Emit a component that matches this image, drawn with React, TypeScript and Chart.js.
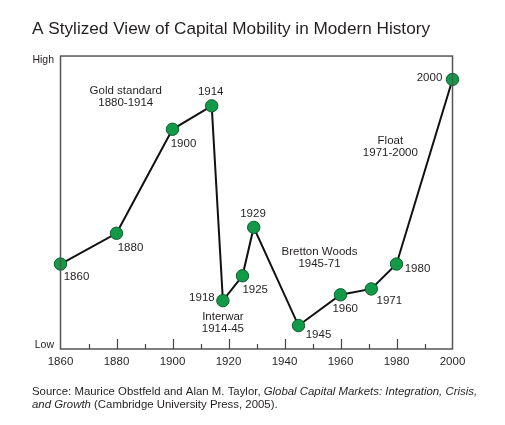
import React, { useEffect, useRef } from "react";
import { Chart, registerables } from "chart.js";

Chart.register(...registerables);

// ---- data ----
const years = [1860, 1880, 1900, 1914, 1918, 1925, 1929, 1945, 1960, 1971, 1980, 2000];
const mobility = [29, 39.5, 75, 83, 16.5, 25, 41.5, 8, 18.5, 20.5, 29, 92];
const xTicks = [1860, 1880, 1900, 1920, 1940, 1960, 1980, 2000];
const yTickValues = [1.4, 98.6];
const yLabels = ["Low", "High"];
const titleText = "A Stylized View of Capital Mobility in Modern History";
const eraNames = ["Gold standard", "Interwar", "Bretton Woods", "Float"];
const eraSpans = ["1880-1914", "1914-45", "1945-71", "1971-2000"];
const eraYears = [1883.3, 1918, 1952.5, 1977.8];
const eraLevels = [86, 9, 31, 69];

// ---- style ----
const FONT = "Arial, 'Liberation Sans', Helvetica, sans-serif";
const TEXT = "#231f20";
const labelOffsets: [number, number][] = [
  [16, 13], [14, 14.6], [11, 15], [-1, -13.6], [-21, -3], [12.7, 14],
  [-0.7, -14], [20, 9], [4.7, 14], [18, 11.7], [21, 4.7], [-23, -1.4],
];

const decorPlugin = {
  id: "decor",
  afterDraw(chart: any) {
    const { ctx, chartArea, scales } = chart;
    const xs = scales.x;
    const ys = scales.y;
    ctx.save();
    // frame
    ctx.strokeStyle = "#555";
    ctx.lineWidth = 1.5;
    ctx.strokeRect(chartArea.left, chartArea.top, chartArea.right - chartArea.left, chartArea.bottom - chartArea.top);
    // inside ticks
    ctx.strokeStyle = "#444";
    ctx.lineWidth = 1.2;
    for (let yr = 1870; yr < 2000; yr += 10) {
      const px = Math.round(xs.getPixelForValue(yr)) + 0.5;
      const len = yr % 20 === 0 ? 10 : 5;
      ctx.beginPath();
      ctx.moveTo(px, chartArea.bottom);
      ctx.lineTo(px, chartArea.bottom - len);
      ctx.stroke();
    }
    ctx.fillStyle = TEXT;
    ctx.textBaseline = "middle";
    // x tick labels
    ctx.font = `11.5px ${FONT}`;
    ctx.textAlign = "center";
    xTicks.forEach((v) => {
      ctx.fillText(String(v), xs.getPixelForValue(v), chartArea.bottom + 13);
    });
    // y labels
    ctx.font = `10.5px ${FONT}`;
    ctx.textAlign = "right";
    yTickValues.forEach((v, i) => {
      ctx.fillText(yLabels[i], chartArea.left - 6.5, ys.getPixelForValue(v));
    });
    // era annotations
    ctx.font = `11.5px ${FONT}`;
    ctx.textAlign = "center";
    eraNames.forEach((n, i) => {
      const px = xs.getPixelForValue(eraYears[i]);
      const py = ys.getPixelForValue(eraLevels[i]);
      ctx.fillText(n, px, py - 6);
      ctx.fillText(eraSpans[i], px, py + 6);
    });
    // point labels
    const meta = chart.getDatasetMeta(0);
    meta.data.forEach((pt: any, i: number) => {
      const [dx, dy] = labelOffsets[i];
      ctx.fillText(String(years[i]), pt.x + dx, pt.y + dy);
    });
    // source note
    ctx.textAlign = "left";
    ctx.textBaseline = "alphabetic";
    const lines: [string, boolean][][] = [
      [["Source: Maurice Obstfeld and Alan M. Taylor, ", false], ["Global Capital Markets: Integration, Crisis,", true]],
      [["and Growth", true], [" (Cambridge University Press, 2005).", false]],
    ];
    const base = [395, 408];
    lines.forEach((segs, li) => {
      let x = 32;
      segs.forEach(([t, it]) => {
        ctx.font = `${it ? "italic " : ""}11.4px ${FONT}`;
        ctx.fillText(t, x, base[li]);
        x += ctx.measureText(t).width;
      });
    });
    ctx.restore();
  },
};

export default function App() {
  const ref = useRef<HTMLCanvasElement | null>(null);
  useEffect(() => {
    if (!ref.current) return;
    const chart = new Chart(ref.current, {
      type: "line",
      data: {
        datasets: [
          {
            data: years.map((y, i) => ({ x: y, y: mobility[i] })),
            borderColor: "#111",
            borderWidth: 2,
            pointRadius: 6.2,
            pointBackgroundColor: "#139a48",
            pointBorderColor: "#0b5e2c",
            pointBorderWidth: 1,
            tension: 0,
            clip: false,
          },
        ],
      },
      plugins: [decorPlugin],
      options: {
        animation: false,
        responsive: false,
        devicePixelRatio: 1,
        layout: { padding: { left: 32, right: 52.5, top: 0, bottom: 56 } },
        plugins: {
          legend: { display: false },
          tooltip: { enabled: false },
          title: {
            display: true,
            text: titleText,
            align: "start",
            color: TEXT,
            font: { family: FONT, size: 17.2, weight: "normal", lineHeight: 1.2 },
            padding: { top: 18.5, bottom: 16.9 },
          },
        },
        scales: {
          x: {
            type: "linear",
            min: 1860,
            max: 2000,
            grid: { display: false },
            border: { display: false },
            afterFit: (s: any) => {
              s.height = 20;
            },
            ticks: { display: false },
          },
          y: {
            min: 0,
            max: 100,
            grid: { display: false },
            border: { display: false },
            afterFit: (s: any) => {
              s.width = 28.5;
            },
            ticks: { display: false },
          },
        },
      },
    } as any);
    return () => chart.destroy();
  }, []);
  return (
    <div style={{ position: "fixed", left: 0, top: 0, width: 505, height: 425, background: "#fff" }}>
      <canvas ref={ref} width={505} height={425} style={{ width: 505, height: 425, display: "block" }} />
    </div>
  );
}
